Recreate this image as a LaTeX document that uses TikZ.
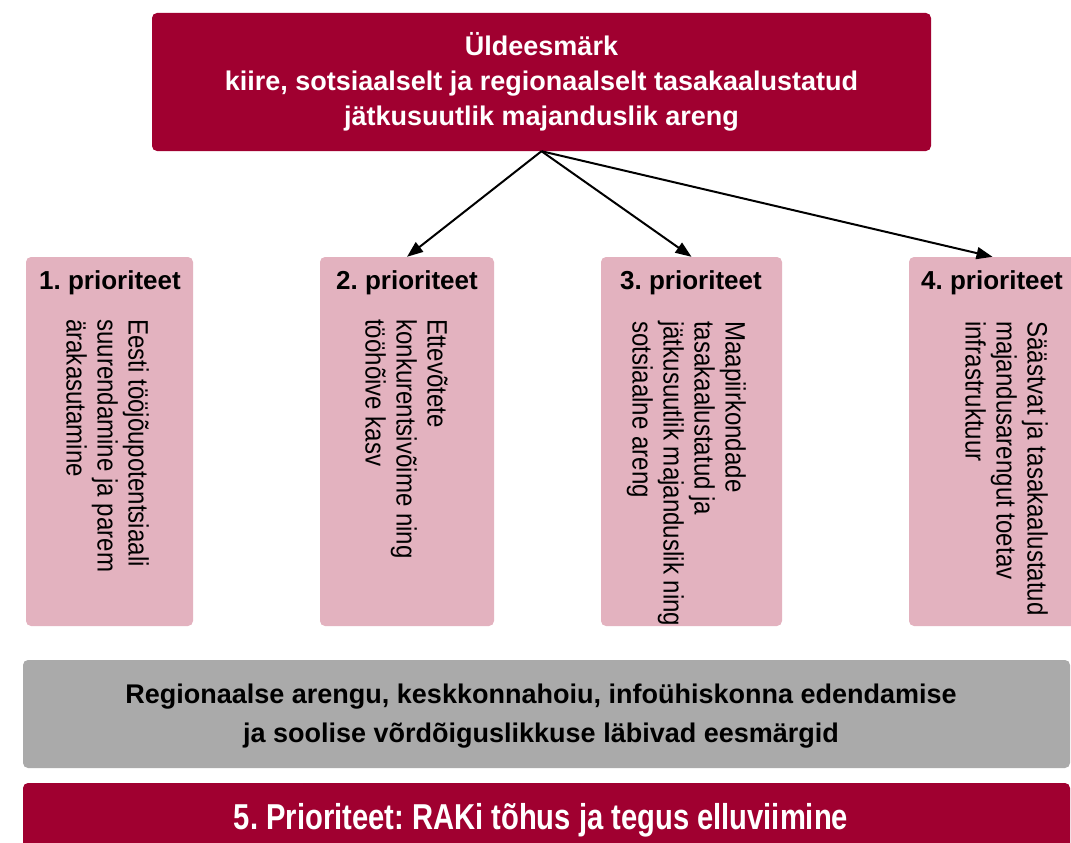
\documentclass[tikz,border=0pt]{standalone}
\usepackage{fontspec}
\setmainfont{Liberation Sans}
\newfontfamily\condfont{Liberation Sans}[FakeStretch=0.86]
\newfontfamily\condbold{Liberation Sans Bold}[FakeStretch=0.81]
\usetikzlibrary{arrows.meta}
\definecolor{crimson}{RGB}{160,0,48}
\definecolor{rosebox}{RGB}{227,178,191}
\definecolor{greybox}{RGB}{170,170,170}
\frenchspacing
\begin{document}
\begin{tikzpicture}[x=1pt,y=-1pt,
  redbox/.style={rectangle,rounded corners=5pt,fill=crimson,text=white,inner sep=0pt,align=center,
    font=\fontsize{27}{35}\selectfont\bfseries},
  prbox/.style={rectangle,rounded corners=5pt,fill=rosebox,inner sep=0pt,minimum height=369pt},
  prtitle/.style={anchor=base,inner sep=0pt,font=\fontsize{26}{30}\selectfont\bfseries},
  prtext/.style={rotate=-90,anchor=north west,inner sep=0pt,align=left,
    font=\condfont\fontsize{28}{31}\selectfont},
  greyband/.style={rectangle,rounded corners=5pt,fill=greybox,inner sep=0pt},
  bandtext/.style={inner sep=0pt,align=center,font=\fontsize{27}{39}\selectfont\bfseries},
  arr/.style={-{Triangle[length=16pt,width=12pt]},line width=2pt,black}]
\useasboundingbox (0,0) rectangle (1071,843);
\clip (0,0) rectangle (1071,843);

% top goal
\node[redbox,minimum width=779pt,minimum height=138pt] (goal) at (541.5,82)
  {Üldeesmärk\\kiire, sotsiaalselt ja regionaalselt tasakaalustatud\\jätkusuutlik majanduslik areng};

% priority boxes
\node[prbox,minimum width=167pt] (p1) at (109.5,441.5) {};
\node[prbox,minimum width=174pt] (p2) at (407,441.5) {};
\node[prbox,minimum width=181pt] (p3) at (691.5,441.5) {};
\node[prbox,minimum width=167pt] (p4) at (992.5,441.5) {};

\node[prtitle] (t1) at (110,289) {1. prioriteet};
\node[prtitle] (t2) at (407,289) {2. prioriteet};
\node[prtitle] (t3) at (691,289) {3. prioriteet};
\node[prtitle] (t4) at (992,289) {4. prioriteet};

\node[prtext] (d1) at (149,319) {Eesti tööjõupotentsiaali\\suurendamine ja parem\\ärakasutamine};
\node[prtext] (d2) at (448,319) {Ettevõtete\\konkurentsivõime ning\\tööhõive kasv};
\node[prtext] (d3) at (746,321) {Maapiirkondade\\tasakaalustatud ja\\jätkusuutlik majanduslik ning\\sotsiaalne areng};
\node[prtext] (d4) at (1048,321) {Säästvat ja tasakaalustatud\\majandusarengut toetav\\infrastruktuur};

% arrows
\draw[arr] (goal.south) -- (p2.north);
\draw[arr] (goal.south) -- (p3.north);
\draw[arr] (goal.south) -- (p4.north);

% cross-cutting band
\node[greyband,minimum width=1047pt,minimum height=108pt] (band) at (546.5,714) {};
\node[bandtext] (bandt) at (541,716) {Regionaalse arengu, keskkonnahoiu, infoühiskonna edendamise\\ja soolise võrdõiguslikkuse läbivad eesmärgid};

% priority 5
\node[redbox,minimum width=1047pt,minimum height=80pt] (p5) at (546.5,823) {};
\node[anchor=base,inner sep=0pt,text=white,font=\condbold\fontsize{36}{42}\selectfont] (p5t) at (541,829) {5. Prioriteet: RAKi tõhus ja tegus elluviimine};
\end{tikzpicture}
\end{document}
